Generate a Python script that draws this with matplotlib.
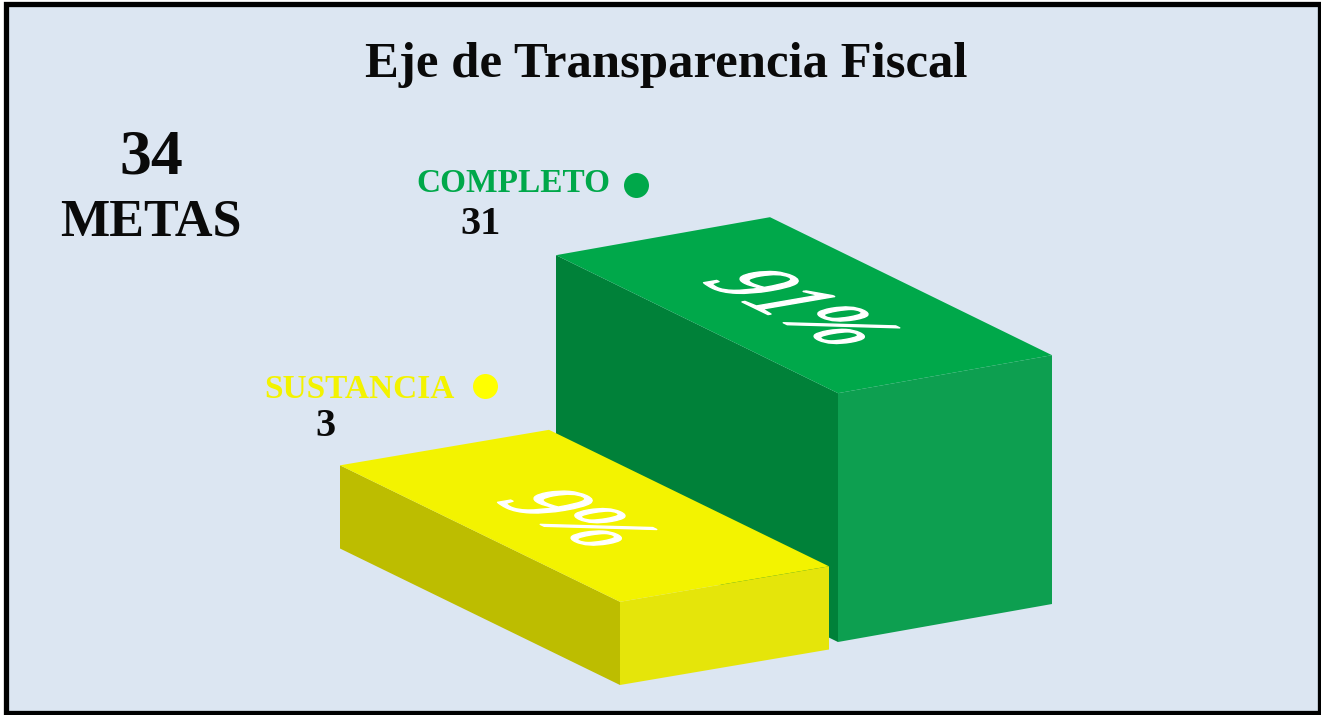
import numpy as np
import matplotlib
matplotlib.use('Agg')
import matplotlib.pyplot as plt
from matplotlib.patches import Polygon, Rectangle
from matplotlib.text import Text
from matplotlib.textpath import TextPath
from matplotlib.transforms import Affine2D

categories = ['SUSTANCIA', 'COMPLETO']
counts = [3, 31]
percents = [9, 91]
total = 34

title = 'Eje de Transparencia Fiscal'
SERIF = 'Liberation Serif'
BG = '#DCE6F2'
INK = '#0A0A0A'

top_colors = ['#F3F300', '#00A84A']
left_colors = ['#BDBD00', '#008139']
right_colors = ['#E5E50A', '#0D9F50']
label_colors = ['#F3F300', '#00A84A']
dot_colors = ['#FFFF00', '#00A84A']

# proyeccion oblicua, todo en pixeles de la imagen
ORIGIN = np.array([620.0, 685.0])
STEP_VEC = np.array([218.0, -43.0])
WIDTH_VECS = [np.array([209.0, -35.5]), np.array([214.0, -38.0])]
DEPTH_VECS = [np.array([-280.0, -136.5]), np.array([-282.0, -138.0])]
BASE_H = 65.0
PX_PER_PCT = 2.02


class FaceText(Text):
    """Texto acostado sobre la cara superior de la caja"""

    def __init__(self, x, y, s, ex, ey, **kw):
        super().__init__(x, y, s, **kw)
        self.ex = ex
        self.ey = ey

    def _face_path(self):
        path = TextPath((0, 0), self.get_text(), size=1, prop=self.get_fontproperties())
        box = path.get_extents()
        cx, cy = self.get_transform().transform(self.get_position())
        tr = (Affine2D().translate(-(box.x0 + box.x1) / 2, -(box.y0 + box.y1) / 2)
              + Affine2D.from_values(self.ex[0], self.ex[1], self.ey[0], self.ey[1], cx, cy))
        return path, tr

    def get_window_extent(self, renderer=None, dpi=None):
        path, tr = self._face_path()
        return path.get_extents(tr)

    def draw(self, renderer):
        path, tr = self._face_path()
        rgb = matplotlib.colors.to_rgb(self.get_color())
        gc = renderer.new_gc()
        gc.set_foreground(rgb)
        gc.set_linewidth(1.0)
        gc.set_antialiased(True)
        renderer.draw_path(gc, path, tr, rgb)
        gc.restore()


def draw_box(ax, i):
    front = ORIGIN + i * STEP_VEC
    h = np.array([0, -(BASE_H + PX_PER_PCT * percents[i])])
    a = front + h
    b = a + WIDTH_VECS[i]
    c = b + DEPTH_VECS[i]
    d = a + DEPTH_VECS[i]
    ax.add_patch(Polygon([front + DEPTH_VECS[i], d, a, front], color=left_colors[i], lw=0))
    ax.add_patch(Polygon([front, a, b, front + WIDTH_VECS[i]], color=right_colors[i], lw=0))
    ax.add_patch(Polygon([a, b, c, d], color=top_colors[i], lw=0))
    centre = (a + b + c + d) / 4
    ax.add_artist(FaceText(centre[0] - (5 if i == 0 else 0), centre[1] + 2, f'{percents[i]}%',
                           (74, -36), (116, 20), color='white',
                           family=SERIF, transform=ax.transData))


fig = plt.figure(figsize=(13.21, 7.15), dpi=100, facecolor='white')
ax = fig.add_axes([0, 0, 1, 1])
ax.set_xlim(0, 1321)
ax.set_ylim(715, 0)
ax.axis('off')

ax.add_patch(Rectangle((5.5, 4), 1314.5, 708.5, facecolor=BG, edgecolor='black', lw=3.8))

ax.text(666, 65, title, fontsize=36.5, fontweight='bold', family=SERIF,
        ha='center', va='center', color=INK)
ax.text(151, 158, str(total), fontsize=46, fontweight='bold', family=SERIF,
        ha='center', va='center', color=INK)
ax.text(151, 223, 'METAS', fontsize=37.5, fontweight='bold', family=SERIF,
        ha='center', va='center', color=INK)

# verde primero, el amarillo queda delante
for i in [1, 0]:
    draw_box(ax, i)

label_x = [359, 513]
label_y = [389, 184]
count_x = [325, 481]
count_y = [427, 225]
dot_x = [485, 636]
dot_y = [386, 185]
for i, name in enumerate(categories):
    ax.text(label_x[i], label_y[i], name, fontsize=24, fontweight='bold', family=SERIF,
            ha='center', va='center', color=label_colors[i])
    ax.text(count_x[i], count_y[i], str(counts[i]), fontsize=29, fontweight='bold', family=SERIF,
            ha='center', va='center', color=INK)
    ax.plot(dot_x[i], dot_y[i], 'o', ms=18, color=dot_colors[i], mew=0)

fig.savefig('out.png', dpi=100)
plt.close(fig)
